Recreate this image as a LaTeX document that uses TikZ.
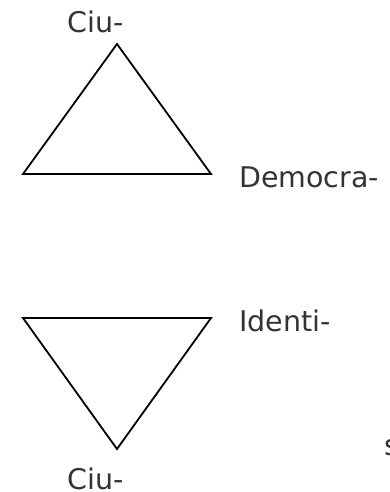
\documentclass[tikz,border=0pt]{standalone}
\usepackage{fontspec}
\setmainfont{DejaVu Sans}
\begin{document}
\begin{tikzpicture}[x=1pt,y=-1pt,
  lbl/.style={anchor=base west,inner sep=0pt,text=black!80,font=\fontsize{28.5}{28.5}\selectfont},
  tri/.style={draw=black,line width=1.8pt,line join=miter}]
\useasboundingbox (0,0) rectangle (390,492);
\coordinate (a1) at (117,44);
\coordinate (b1) at (23,174);
\coordinate (c1) at (211,174);
\draw[tri] (a1) -- (c1) -- (b1) -- cycle;
\coordinate (a2) at (23,318);
\coordinate (b2) at (211,318);
\coordinate (c2) at (117,449);
\draw[tri] (a2) -- (b2) -- (c2) -- cycle;
\node[lbl] (t1) at (67,33) {Ciu-};
\node[lbl] (t2) at (239,187) {Democra-};
\node[lbl] (t3) at (239,331) {Identi-};
\node[lbl] (t4) at (67,489) {Ciu-};
\node[lbl] (t5) at (384,455) {s};
\end{tikzpicture}
\end{document}
